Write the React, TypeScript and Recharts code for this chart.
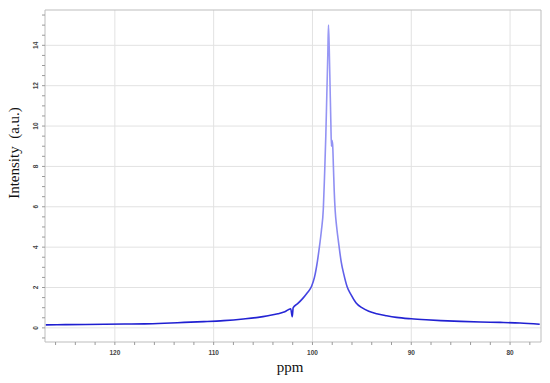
import React from 'react';
import { LineChart, Line, XAxis, YAxis, ReferenceLine, Label } from 'recharts';

const ppm = [
  127.0, 125.0, 123.0, 121.0, 119.0, 117.0, 115.0, 113.0, 111.0, 109.0,
  107.0, 105.5, 104.5, 103.5, 102.8, 102.2, 102.05, 101.95, 101.5, 101.0,
  100.5, 100.1, 99.8, 99.5, 99.3, 99.1, 98.9, 98.78, 98.65, 98.55,
  98.45, 98.38, 98.3, 98.22, 98.14, 98.08, 98.03, 97.96, 97.88, 97.8,
  97.7, 97.55, 97.35, 97.1, 96.8, 96.5, 96.1, 95.6, 95.0, 94.3,
  93.5, 92.5, 91.5, 90.0, 88.5, 87.0, 85.0, 83.0, 81.0, 79.0, 77.0,
];
const intensity = [
  0.15, 0.16, 0.17, 0.18, 0.19, 0.2, 0.23, 0.27, 0.31, 0.36,
  0.44, 0.52, 0.6, 0.7, 0.8, 0.95, 0.55, 1.0, 1.2, 1.45,
  1.75, 2.05, 2.5, 3.3, 4.0, 4.8, 5.9, 7.5, 9.5, 11.5,
  13.5, 15.0, 13.8, 12.0, 10.2, 9.0, 9.3, 9.1, 8.0, 6.8,
  5.8, 5.0, 4.2, 3.3, 2.6, 2.05, 1.65, 1.25, 1.0, 0.82,
  0.7, 0.6, 0.52, 0.45, 0.4, 0.36, 0.32, 0.29, 0.27, 0.24, 0.18,
];

const xMajor = [120, 110, 100, 90, 80];
const yMajor = [0, 2, 4, 6, 8, 10, 12, 14];
const xTicks = [126, 124, 122, 120, 118, 116, 114, 112, 110, 108, 106, 104, 102, 100, 98, 96, 94, 92, 90, 88, 86, 84, 82, 80, 78];
const yTicks = [
  -0.5, 0, 0.5, 1, 1.5, 2, 2.5, 3, 3.5, 4, 4.5, 5, 5.5, 6, 6.5, 7, 7.5, 8,
  8.5, 9, 9.5, 10, 10.5, 11, 11.5, 12, 12.5, 13, 13.5, 14, 14.5, 15, 15.5,
];
const xDomain = [76.87, 127.07];
const yDomain = [-0.7, 15.75];

const data = ppm.map((p, i) => ({ ppm: p, intensity: intensity[i] }));

const XTick = (props: any) => {
  const { x, y, payload } = props;
  const major = xMajor.includes(payload.value);
  return (
    <g>
      <line x1={x} x2={x} y1={y} y2={y + 3} stroke="#9a9a9a" strokeWidth={1} />
      {major && (
        <text x={x} y={y + 12.5} textAnchor="middle" fontSize={6.5} fontWeight="bold" fill="#444" fontFamily="Liberation Sans, Arial, sans-serif">
          {payload.value}
        </text>
      )}
    </g>
  );
};

const YTick = (props: any) => {
  const { x, y, payload } = props;
  const major = yMajor.includes(payload.value);
  return (
    <g>
      <line x1={x - 3} x2={x} y1={y} y2={y} stroke="#9a9a9a" strokeWidth={1} />
      {major && (
        <text
          transform={`translate(${x - 10},${y}) rotate(-90)`}
          textAnchor="middle"
          dominantBaseline="central"
          fontSize={6.5}
          fontWeight="bold"
          fill="#444"
          fontFamily="Liberation Sans, Arial, sans-serif"
        >
          {payload.value}
        </text>
      )}
    </g>
  );
};

const gridColor = '#e2e2e2';
const axisColor = '#bdbdbd';

export default function App() {
  return (
    <div style={{ position: 'absolute', left: 0, top: 0, background: '#fff' }}>
      <LineChart width={550} height={383} data={data} margin={{ top: 10, right: 9, left: 0, bottom: 0 }}>
        <defs>
          <linearGradient id="peakGrad" x1="0" y1="0" x2="0" y2="1">
            <stop offset="0" stopColor="#9a9af5" />
            <stop offset="0.72" stopColor="#8c8cf2" />
            <stop offset="0.87" stopColor="#5050e6" />
            <stop offset="0.94" stopColor="#2a2ad8" />
            <stop offset="1" stopColor="#1e1ed0" />
          </linearGradient>
        </defs>
        <XAxis
          dataKey="ppm"
          type="number"
          domain={xDomain}
          reversed
          allowDataOverflow
          ticks={xTicks}
          interval={0}
          tickSize={0}
          tickMargin={0}
          tickLine={false}
          tick={XTick}
          height={41}
          axisLine={{ stroke: axisColor }}
        >
          <Label
            content={(p: any) => {
              const vb = p.viewBox;
              return (
                <text x={vb.x + vb.width / 2 - 3} y={vb.y + 30} textAnchor="middle" fontSize={15} fill="#111" fontFamily="Liberation Serif, Times New Roman, serif">
                  ppm
                </text>
              );
            }}
          />
        </XAxis>
        <YAxis
          type="number"
          domain={yDomain}
          allowDataOverflow
          ticks={yTicks}
          interval={0}
          tickSize={0}
          tickMargin={0}
          tickLine={false}
          tick={YTick}
          width={45}
          axisLine={{ stroke: axisColor }}
        >
          <Label
            content={(p: any) => {
              const vb = p.viewBox;
              const cx = vb.x + 14;
              const cy = vb.y + vb.height / 2 - 23;
              return (
                <text
                  transform={`translate(${cx},${cy}) rotate(-90)`}
                  textAnchor="middle"
                  dominantBaseline="central"
                  fontSize={15}
                  fill="#111"
                  fontFamily="Liberation Serif, Times New Roman, serif"
                  style={{ whiteSpace: 'pre' }}
                >
                  {'Intensity\u00a0\u00a0(a.u.)'}
                </text>
              );
            }}
          />
        </YAxis>
        {xMajor.map((v) => (
          <ReferenceLine key={'vx' + v} x={v} stroke={gridColor} strokeWidth={1} />
        ))}
        {yMajor.map((v) => (
          <ReferenceLine key={'hy' + v} y={v} stroke={gridColor} strokeWidth={1} />
        ))}
        <ReferenceLine y={yDomain[1]} stroke={axisColor} ifOverflow="visible" />
        <ReferenceLine x={xDomain[0]} stroke={axisColor} ifOverflow="visible" />
        <Line
          type="monotone"
          dataKey="intensity"
          stroke="url(#peakGrad)"
          strokeWidth={1.6}
          dot={false}
          isAnimationActive={false}
        />
      </LineChart>
    </div>
  );
}
